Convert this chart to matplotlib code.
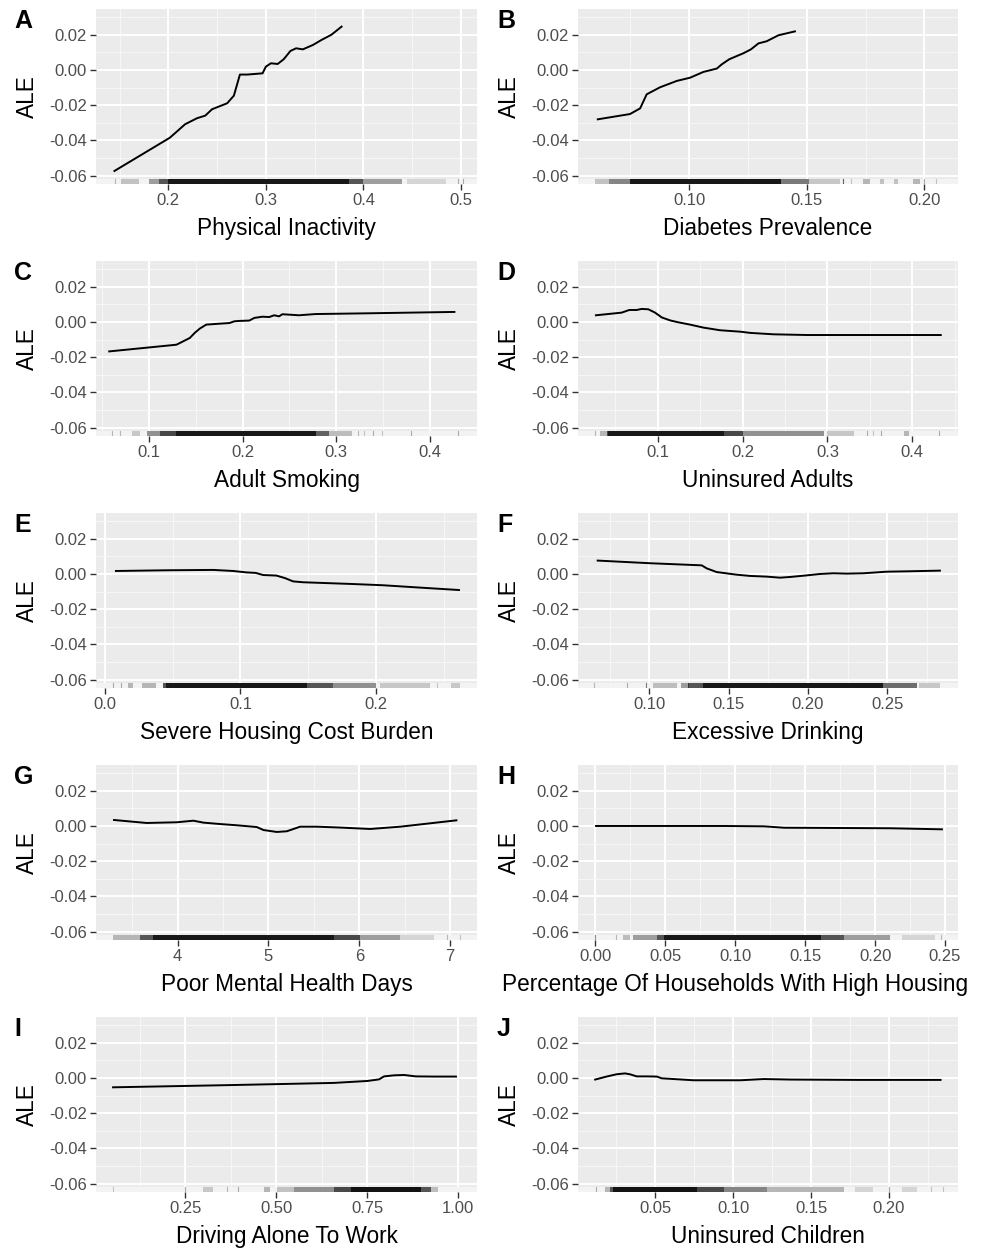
import numpy as np
import matplotlib
matplotlib.use("Agg")
import matplotlib.pyplot as plt

plt.rcParams['font.family'] = ['Liberation Sans', 'DejaVu Sans']

# ---- data ----------------------------------------------------------------

panel_letters = ["A", "B", "C", "D", "E", "F", "G", "H", "I", "J"]

x_labels = [
    "Physical Inactivity",
    "Diabetes Prevalence",
    "Adult Smoking",
    "Uninsured Adults",
    "Severe Housing Cost Burden",
    "Excessive Drinking",
    "Poor Mental Health Days",
    "Percentage Of Households With High Housing",
    "Driving Alone To Work",
    "Uninsured Children",
]

y_ticks = [-0.06, -0.04, -0.02, 0.00, 0.02]
y_tick_labels = ["-0.06", "-0.04", "-0.02", "0.00", "0.02"]

a_x = [0.1448, 0.1948, 0.2017, 0.2172, 0.2293, 0.2379, 0.2448, 0.2603, 0.2672,
       0.2734, 0.281, 0.2966, 0.300, 0.3052, 0.3121, 0.3183, 0.3252, 0.331,
       0.3379, 0.3483, 0.3569, 0.3672, 0.3776]
a_ale = [-0.0573, -0.0407, -0.0384, -0.0308, -0.0274, -0.0259, -0.0223, -0.0189,
         -0.0146, -0.0026, -0.0026, -0.0019, 0.0019, 0.0038, 0.0034, 0.0061,
         0.0108, 0.0123, 0.0117, 0.0142, 0.017, 0.020, 0.0246]

b_x = [0.0612, 0.0749, 0.0792, 0.082, 0.0877, 0.0948, 0.1004, 0.1061, 0.1118,
       0.1139, 0.1171, 0.1231, 0.1263, 0.1295, 0.133, 0.138, 0.145]
b_ale = [-0.028, -0.025, -0.0218, -0.0138, -0.0098, -0.0062, -0.0044, -0.0011,
         0.0008, 0.0032, 0.0061, 0.0095, 0.0117, 0.0151, 0.0163, 0.0197, 0.0219]

c_x = [0.0575, 0.1293, 0.1364, 0.1435, 0.1488, 0.1541, 0.1611, 0.1717, 0.1859,
       0.1912, 0.1965, 0.2071, 0.2124, 0.2212, 0.2283, 0.2336, 0.2389, 0.2424,
       0.2601, 0.2777, 0.3307, 0.4261]
c_ale = [-0.0167, -0.0129, -0.011, -0.0091, -0.0062, -0.0038, -0.0015, -0.0011,
         -0.0006, 0.0004, 0.0006, 0.0008, 0.0023, 0.003, 0.0028, 0.0038, 0.0032,
         0.0044, 0.0038, 0.0045, 0.0049, 0.0057]

d_x = [0.0272, 0.0575, 0.0665, 0.0752, 0.0811, 0.089, 0.0969, 0.1047, 0.1146,
       0.1244, 0.1382, 0.1539, 0.1736, 0.1972, 0.2091, 0.2366, 0.276, 0.4335]
d_ale = [0.0038, 0.0053, 0.0068, 0.0068, 0.0074, 0.0072, 0.0053, 0.0026, 0.0009,
         -0.0002, -0.0015, -0.0032, -0.0047, -0.0055, -0.0062, -0.007, -0.0074,
         -0.0074]

e_x = [0.0081, 0.0455, 0.0799, 0.0946, 0.1044, 0.1113, 0.1167, 0.1265, 0.1327,
       0.1388, 0.1462, 0.1609, 0.183, 0.2052, 0.2297, 0.2612]
e_ale = [0.0017, 0.0021, 0.0023, 0.0017, 0.0009, 0.0006, -0.0006, -0.0009,
         -0.0023, -0.0042, -0.0047, -0.0051, -0.0057, -0.0064, -0.0076, -0.0091]

f_x = [0.0674, 0.1004, 0.133, 0.1361, 0.1424, 0.155, 0.1634, 0.174, 0.1824,
       0.1887, 0.1992, 0.2076, 0.216, 0.2244, 0.235, 0.2496, 0.2622, 0.2832]
f_ale = [0.0076, 0.0061, 0.0049, 0.0032, 0.0011, -0.0004, -0.0011, -0.0015,
         -0.0021, -0.0017, -0.0008, 0.0, 0.0004, 0.0002, 0.0004, 0.0013, 0.0015,
         0.0019]

g_x = [3.298, 3.658, 3.989, 4.173, 4.283, 4.467, 4.651, 4.871, 4.945, 5.092,
       5.202, 5.349, 5.533, 5.79, 6.121, 6.452, 7.07]
g_ale = [0.0034, 0.0017, 0.0021, 0.003, 0.0019, 0.0011, 0.0004, -0.0006, -0.0023,
         -0.0034, -0.003, -0.0004, -0.0004, -0.0009, -0.0017, -0.0004, 0.0032]

h_x = [0.0005, 0.0919, 0.1206, 0.1349, 0.1636, 0.2115, 0.2478]
h_ale = [0.0, 0.0, -0.0002, -0.001, -0.0011, -0.0013, -0.0019]

i_x = [0.0515, 0.3824, 0.6581, 0.75, 0.7822, 0.796, 0.8235, 0.8511, 0.8833,
       0.9338, 0.9936]
i_ale = [-0.0053, -0.004, -0.0028, -0.0017, -0.0008, 0.0009, 0.0015, 0.0017,
         0.0009, 0.0008, 0.0008]

j_x = [0.0116, 0.0189, 0.0253, 0.0307, 0.0339, 0.0382, 0.0446, 0.0511, 0.0543,
       0.0618, 0.0747, 0.1047, 0.1197, 0.1369, 0.1798, 0.233]
j_ale = [-0.0009, 0.0008, 0.0021, 0.0026, 0.0021, 0.0009, 0.0009, 0.0008, -0.0002,
         -0.0006, -0.0013, -0.0013, -0.0006, -0.0009, -0.0011, -0.0011]

# rug density read as (from, to, darkness); from == to is a single tick
a_rug = [(0.145, 0.145, 0.25), (0.152, 0.170, 0.2), (0.180, 0.190, 0.35),
         (0.190, 0.200, 0.65), (0.200, 0.385, 0.9), (0.385, 0.400, 0.65),
         (0.400, 0.440, 0.35), (0.445, 0.485, 0.12), (0.497, 0.497, 0.3),
         (0.502, 0.502, 0.3)]
b_rug = [(0.060, 0.066, 0.2), (0.066, 0.075, 0.45), (0.075, 0.139, 0.9),
         (0.139, 0.151, 0.5), (0.151, 0.164, 0.18), (0.1656, 0.1656, 0.6),
         (0.169, 0.169, 0.2), (0.174, 0.177, 0.25), (0.181, 0.183, 0.2),
         (0.187, 0.189, 0.2), (0.195, 0.198, 0.25), (0.200, 0.200, 0.3),
         (0.205, 0.205, 0.2)]
c_rug = [(0.060, 0.060, 0.25), (0.069, 0.069, 0.25), (0.0816, 0.0905, 0.18),
         (0.0975, 0.1117, 0.4), (0.1117, 0.129, 0.7), (0.129, 0.278, 0.9),
         (0.278, 0.292, 0.6), (0.292, 0.3166, 0.22), (0.323, 0.323, 0.25),
         (0.330, 0.330, 0.2), (0.339, 0.339, 0.3), (0.349, 0.349, 0.2),
         (0.380, 0.380, 0.3), (0.430, 0.430, 0.3)]
d_rug = [(0.026, 0.026, 0.25), (0.032, 0.040, 0.25), (0.040, 0.042, 0.7),
         (0.042, 0.178, 0.9), (0.178, 0.201, 0.7), (0.201, 0.296, 0.4),
         (0.300, 0.331, 0.18), (0.347, 0.347, 0.3), (0.354, 0.354, 0.2),
         (0.363, 0.363, 0.3), (0.390, 0.396, 0.25), (0.4315, 0.4315, 0.3)]
e_rug = [(0.006, 0.006, 0.3), (0.012, 0.012, 0.3), (0.017, 0.021, 0.25),
         (0.027, 0.038, 0.25), (0.043, 0.045, 0.65), (0.045, 0.149, 0.9),
         (0.149, 0.168, 0.65), (0.168, 0.200, 0.4), (0.203, 0.240, 0.18),
         (0.245, 0.245, 0.2), (0.255, 0.262, 0.18)]
f_rug = [(0.0653, 0.0653, 0.25), (0.0857, 0.0857, 0.3), (0.098, 0.098, 0.5),
         (0.1025, 0.1172, 0.22), (0.120, 0.125, 0.35), (0.1246, 0.134, 0.65),
         (0.134, 0.247, 0.9), (0.247, 0.2685, 0.55), (0.270, 0.283, 0.18)]
g_rug = [(3.29, 3.585, 0.25), (3.585, 3.73, 0.65), (3.73, 5.72, 0.9),
         (5.72, 6.01, 0.7), (6.01, 6.45, 0.35), (6.45, 6.82, 0.12),
         (6.97, 6.97, 0.25), (7.11, 7.11, 0.2)]
h_rug = [(0.0, 0.0, 0.4), (0.015, 0.015, 0.25), (0.020, 0.025, 0.22),
         (0.027, 0.044, 0.35), (0.044, 0.049, 0.65), (0.049, 0.161, 0.9),
         (0.161, 0.178, 0.65), (0.178, 0.211, 0.35), (0.219, 0.243, 0.12),
         (0.247, 0.247, 0.25)]
i_rug = [(0.051, 0.051, 0.2), (0.249, 0.249, 0.3), (0.2996, 0.327, 0.18),
         (0.364, 0.364, 0.25), (0.396, 0.396, 0.3), (0.465, 0.483, 0.25),
         (0.502, 0.548, 0.2), (0.548, 0.658, 0.4), (0.658, 0.704, 0.7),
         (0.704, 0.897, 0.92), (0.897, 0.925, 0.65), (0.925, 0.943, 0.22)]
j_rug = [(0.0124, 0.0124, 0.3), (0.0178, 0.021, 0.25), (0.021, 0.023, 0.65),
         (0.023, 0.077, 0.92), (0.077, 0.094, 0.7), (0.094, 0.122, 0.45),
         (0.122, 0.171, 0.25), (0.178, 0.190, 0.12), (0.200, 0.200, 0.3),
         (0.208, 0.218, 0.12), (0.227, 0.227, 0.2), (0.2345, 0.2345, 0.2)]

x_tick_values = [
    [0.2, 0.3, 0.4, 0.5],
    [0.10, 0.15, 0.20],
    [0.1, 0.2, 0.3, 0.4],
    [0.1, 0.2, 0.3, 0.4],
    [0.0, 0.1, 0.2],
    [0.10, 0.15, 0.20, 0.25],
    [4, 5, 6, 7],
    [0.00, 0.05, 0.10, 0.15, 0.20, 0.25],
    [0.25, 0.50, 0.75, 1.00],
    [0.05, 0.10, 0.15, 0.20],
]
x_tick_labels = [
    ["0.2", "0.3", "0.4", "0.5"],
    ["0.10", "0.15", "0.20"],
    ["0.1", "0.2", "0.3", "0.4"],
    ["0.1", "0.2", "0.3", "0.4"],
    ["0.0", "0.1", "0.2"],
    ["0.10", "0.15", "0.20", "0.25"],
    ["4", "5", "6", "7"],
    ["0.00", "0.05", "0.10", "0.15", "0.20", "0.25"],
    ["0.25", "0.50", "0.75", "1.00"],
    ["0.05", "0.10", "0.15", "0.20"],
]

series = [(a_x, a_ale, a_rug), (b_x, b_ale, b_rug), (c_x, c_ale, c_rug),
          (d_x, d_ale, d_rug), (e_x, e_ale, e_rug), (f_x, f_ale, f_rug),
          (g_x, g_ale, g_rug), (h_x, h_ale, h_rug), (i_x, i_ale, i_rug),
          (j_x, j_ale, j_rug)]

# ---- layout ----------------------------------------------------------------

x_limits = [(0.1259, 0.5164), (0.0528, 0.2143), (0.0434, 0.4502),
            (0.0061, 0.4538), (-0.0066, 0.2745), (0.0550, 0.2946),
            (3.100, 7.297), (-0.0124, 0.2593), (0.0047, 1.0514),
            (0.0006, 0.2442)]
y_limits = (-0.0647, 0.0346)

W, H = 982, 1249
fig = plt.figure(figsize=(W / 100, H / 100), dpi=100)

col_left = [96, 578]
col_width = [381, 380]
panel_h = 175
row_top = 9
row_step = 252


def minor_breaks(majors, lo, hi):
    step = majors[1] - majors[0]
    cand = np.arange(majors[0] - step / 2, majors[-1] + step, step)
    return [v for v in cand if lo <= v <= hi]


for k, (xs, ys, rug) in enumerate(series):
    row, col = divmod(k, 2)
    top = row_top + row * row_step
    ax = fig.add_axes([col_left[col] / W, 1 - (top + panel_h) / H,
                       col_width[col] / W, panel_h / H])
    ax.set_facecolor("#EBEBEB")
    for s in ax.spines.values():
        s.set_visible(False)

    lo, hi = x_limits[k]
    ax.set_xlim(lo, hi)
    ax.set_ylim(*y_limits)

    ax.set_xticks(x_tick_values[k])
    ax.set_xticklabels(x_tick_labels[k])
    ax.set_xticks(minor_breaks(x_tick_values[k], lo, hi), minor=True)
    ax.set_yticks(y_ticks)
    ax.set_yticklabels(y_tick_labels)
    ax.set_yticks([-0.05, -0.03, -0.01, 0.01, 0.03], minor=True)

    ax.grid(which="major", color="white", linewidth=1.4)
    ax.grid(which="minor", color="#F7F7F7", linewidth=0.7)
    ax.set_axisbelow(True)
    ax.tick_params(which="major", length=4, width=1.0, color="#333333",
                   labelsize=12, labelcolor="#4D4D4D", pad=2.5)
    ax.tick_params(which="minor", length=0)

    # rug along the bottom
    ax.axvspan(lo, hi, ymin=0, ymax=0.03, color="#F3F3F3", lw=0, zorder=1)
    for r0, r1, dark in rug:
        if r1 - r0 < 1e-9:
            ax.axvline(r0, ymin=0, ymax=0.03, color="black", alpha=dark,
                       lw=0.8, zorder=2)
        else:
            ax.axvspan(r0, r1, ymin=0, ymax=0.03, color="black", alpha=dark,
                       lw=0, zorder=2)

    ax.plot(xs, ys, color="black", linewidth=1.4, zorder=3)

    ax.set_xlabel(x_labels[k], fontsize=16.3, color="black", labelpad=6.5)
    ax.set_ylabel("ALE", fontsize=16.3, color="black", labelpad=7)
    if k == 7:
        ax.xaxis.label.set_x(0.413)

    fig.text((14 if col == 0 else 497) / W, 1 - (top) / H,
             panel_letters[k], fontsize=18, fontweight="bold",
             ha="left", va="top")

fig.savefig("out.png", dpi=100)
